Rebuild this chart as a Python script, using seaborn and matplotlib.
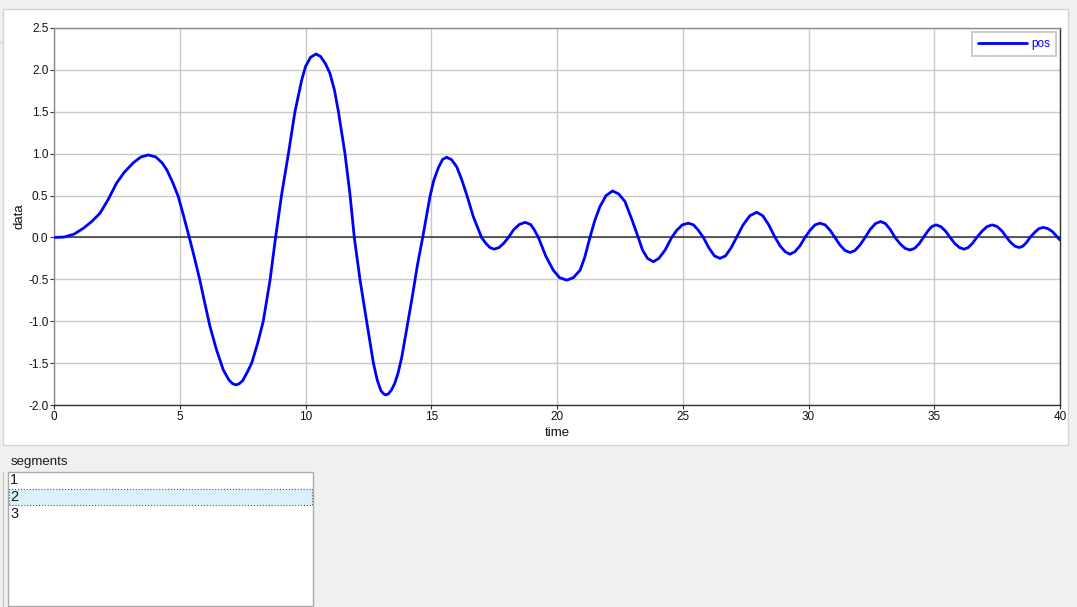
import numpy as np
import pandas as pd
import matplotlib
matplotlib.use("Agg")
import matplotlib.pyplot as plt
from matplotlib.patches import Rectangle
from matplotlib.lines import Line2D
import seaborn as sns

# Datos (segmento 2), una linea por semiciclo
time = [0.0, 0.4, 0.8, 1.17, 1.5, 1.83, 2.15, 2.49, 2.8, 3.15, 3.45, 3.75, 4.05, 4.3, 4.48, 4.7, 4.94, 5.15,
        5.38, 5.6, 5.80, 6.0, 6.20, 6.45, 6.73, 6.95, 7.1, 7.24, 7.37, 7.5, 7.7, 7.86, 8.1, 8.32, 8.59,
        8.81, 9.05, 9.32, 9.58, 9.85, 10.0, 10.2, 10.42, 10.6, 10.8, 10.97, 11.15, 11.31, 11.57, 11.77,
        11.94, 12.17, 12.43, 12.70, 12.85, 13.0, 13.1, 13.19, 13.3, 13.42, 13.55, 13.68, 13.82, 14.02, 14.25, 14.45,
        14.66, 14.95, 15.1, 15.28, 15.45, 15.61, 15.8, 16.01, 16.2, 16.41, 16.67,
        17.0, 17.17, 17.33, 17.5, 17.7, 17.88,
        18.07, 18.27, 18.5, 18.73, 18.95, 19.1,
        19.26, 19.55, 19.85, 20.1, 20.39, 20.65, 20.92, 21.1,
        21.31, 21.5, 21.71, 21.95, 22.21, 22.45, 22.70, 22.97,
        23.23, 23.4, 23.6, 23.83, 24.05, 24.3,
        24.56, 24.76, 24.98, 25.22, 25.43, 25.62,
        25.82, 26.04, 26.26, 26.48, 26.7, 26.92,
        27.14, 27.4, 27.67, 27.94, 28.18, 28.42,
        28.67, 28.87, 29.07, 29.26, 29.46, 29.66,
        29.86, 30.06, 30.26, 30.46, 30.66, 30.86,
        31.05, 31.25, 31.45, 31.65, 31.85, 32.05,
        32.25, 32.45, 32.66, 32.87, 33.06, 33.25,
        33.44, 33.64, 33.84, 34.04, 34.22, 34.4,
        34.57, 34.74, 34.9, 35.07, 35.26, 35.45,
        35.63, 35.81, 36.0, 36.18, 36.35, 36.52,
        36.69, 36.9, 37.1, 37.31, 37.5, 37.7,
        37.88, 38.04, 38.21, 38.38, 38.52, 38.67,
        38.81, 38.99, 39.16, 39.34, 39.52, 39.7, 39.85, 40.0]
pos = [0.0, 0.005, 0.04, 0.11, 0.19, 0.29, 0.45, 0.65, 0.78, 0.89, 0.96, 0.985, 0.96, 0.89, 0.81, 0.67, 0.49, 0.26,
       0.0, -0.26, -0.51, -0.79, -1.06, -1.33, -1.58, -1.70, -1.745, -1.76, -1.745, -1.71, -1.60, -1.50, -1.26, -1.0, -0.51,
       0.0, 0.51, 1.0, 1.50, 1.88, 2.04, 2.15, 2.19, 2.16, 2.07, 1.96, 1.76, 1.50, 1.0, 0.51,
       0.0, -0.51, -1.0, -1.50, -1.70, -1.83, -1.865, -1.88, -1.865, -1.82, -1.74, -1.62, -1.44, -1.10, -0.70, -0.33,
       0.0, 0.49, 0.68, 0.83, 0.93, 0.957, 0.93, 0.845, 0.70, 0.51, 0.25,
       0.0, -0.07, -0.12, -0.14, -0.12, -0.07,
       0.0, 0.09, 0.155, 0.18, 0.155, 0.09,
       0.0, -0.22, -0.39, -0.48, -0.51, -0.48, -0.39, -0.24,
       0.0, 0.2, 0.37, 0.50, 0.555, 0.52, 0.43, 0.22,
       0.0, -0.15, -0.25, -0.29, -0.25, -0.15,
       0.0, 0.085, 0.15, 0.17, 0.15, 0.085,
       0.0, -0.125, -0.22, -0.25, -0.22, -0.125,
       0.0, 0.15, 0.26, 0.30, 0.26, 0.15,
       0.0, -0.10, -0.17, -0.20, -0.17, -0.10,
       0.0, 0.085, 0.15, 0.17, 0.15, 0.085,
       0.0, -0.09, -0.155, -0.18, -0.155, -0.09,
       0.0, 0.095, 0.165, 0.19, 0.165, 0.095,
       0.0, -0.075, -0.13, -0.15, -0.13, -0.075,
       0.0, 0.075, 0.13, 0.15, 0.13, 0.075,
       0.0, -0.07, -0.12, -0.14, -0.12, -0.07,
       0.0, 0.075, 0.13, 0.15, 0.13, 0.075,
       0.0, -0.06, -0.105, -0.12, -0.105, -0.06,
       0.0, 0.06, 0.105, 0.12, 0.105, 0.07, 0.02, -0.03]
x_ticks = [0, 5, 10, 15, 20, 25, 30, 35, 40]
y_ticks = [-2.0, -1.5, -1.0, -0.5, 0.0, 0.5, 1.0, 1.5, 2.0, 2.5]
segments = ["1", "2", "3"]

assert len(time) == len(pos)
df = pd.DataFrame({"time": time, "pos": pos})

sns.set_style("white")
plt.rcParams["font.family"] = ["Liberation Sans", "DejaVu Sans"]

W, H = 1077, 607
fig = plt.figure(figsize=(W / 100, H / 100), dpi=100, facecolor="#f0f0f0")


def fx(x):
    return x / W


def fy(y):
    return 1 - y / H


def caja(x0, y0, x1, y1, **kw):
    fig.patches.append(Rectangle((fx(x0), fy(y1)), fx(x1) - fx(x0), fy(y0) - fy(y1),
                                 transform=fig.transFigure, zorder=-1, **kw))


# Paneles de la interfaz
caja(3, 9, 1068, 445, facecolor="white", edgecolor="#d4d4d4", lw=1)
fig.lines.append(Line2D([fx(0), fx(3)], [fy(42), fy(42)], transform=fig.transFigure,
                        color="#d4d4d4", lw=1, zorder=-1))
fig.lines.append(Line2D([fx(3), fx(3)], [fy(472), fy(607)], transform=fig.transFigure,
                        color="#c8c8c8", lw=1, zorder=-1))
caja(8, 472, 313, 606, facecolor="white", edgecolor="#ababab", lw=1)
caja(9, 489, 312, 505, facecolor="#d9f1fb", edgecolor="#555555", lw=0.8, ls=":")
fig.text(fx(11), fy(462), "segments", fontsize=9.5, va="center", ha="left", color="#1a1a1a")
for i, s in enumerate(segments):
    fig.text(fx(10), fy(480 + 17 * i), s, fontsize=10.5, va="center", ha="left", color="#1a1a1a")

# Grafico
ax = fig.add_axes([fx(54), fy(405), fx(1060) - fx(54), fy(28) - fy(405)])
ax.set_zorder(2)
ax.set_facecolor("white")
ax.set_axisbelow(True)
ax.grid(True, color="#c8c8c8", lw=1)
ax.axhline(0, color="#404040", lw=1.2, zorder=1.5)
sns.lineplot(data=df, x="time", y="pos", ax=ax, color="#0000ff", lw=2.0, label="pos",
             zorder=3, sort=False, solid_joinstyle="round")

ax.set_xlim(0, 40)
ax.set_ylim(-2.0, 2.5)
ax.set_xticks(x_ticks)
ax.set_yticks(y_ticks)
ax.set_xticklabels([str(t) for t in x_ticks])
ax.set_yticklabels(["%.1f" % t for t in y_ticks])
ax.tick_params(axis="both", direction="out", length=3, width=0.8, color="#333333",
               labelsize=8.5, pad=1, labelcolor="#111111")
ax.tick_params(left=True, bottom=True)
ax.set_xlabel("time", fontsize=9.5, labelpad=3, color="#111111")
ax.set_ylabel("data", fontsize=9.5, labelpad=2, color="#111111")
for side in ["left", "top"]:
    ax.spines[side].set_color("#8a8a8a")
for side in ["bottom", "right"]:
    ax.spines[side].set_color("#333333")
for sp in ax.spines.values():
    sp.set_linewidth(1)

leg = ax.legend(loc="upper right", fontsize=8.5, handlelength=4.2, frameon=True,
                fancybox=False, framealpha=1, borderaxespad=0.35, borderpad=0.5,
                handletextpad=0.3, labelcolor="#0000ff")
leg.get_frame().set_edgecolor("#c4c4c4")
leg.get_frame().set_linewidth(1.2)

fig.savefig("out.png", dpi=100, facecolor=fig.get_facecolor())
